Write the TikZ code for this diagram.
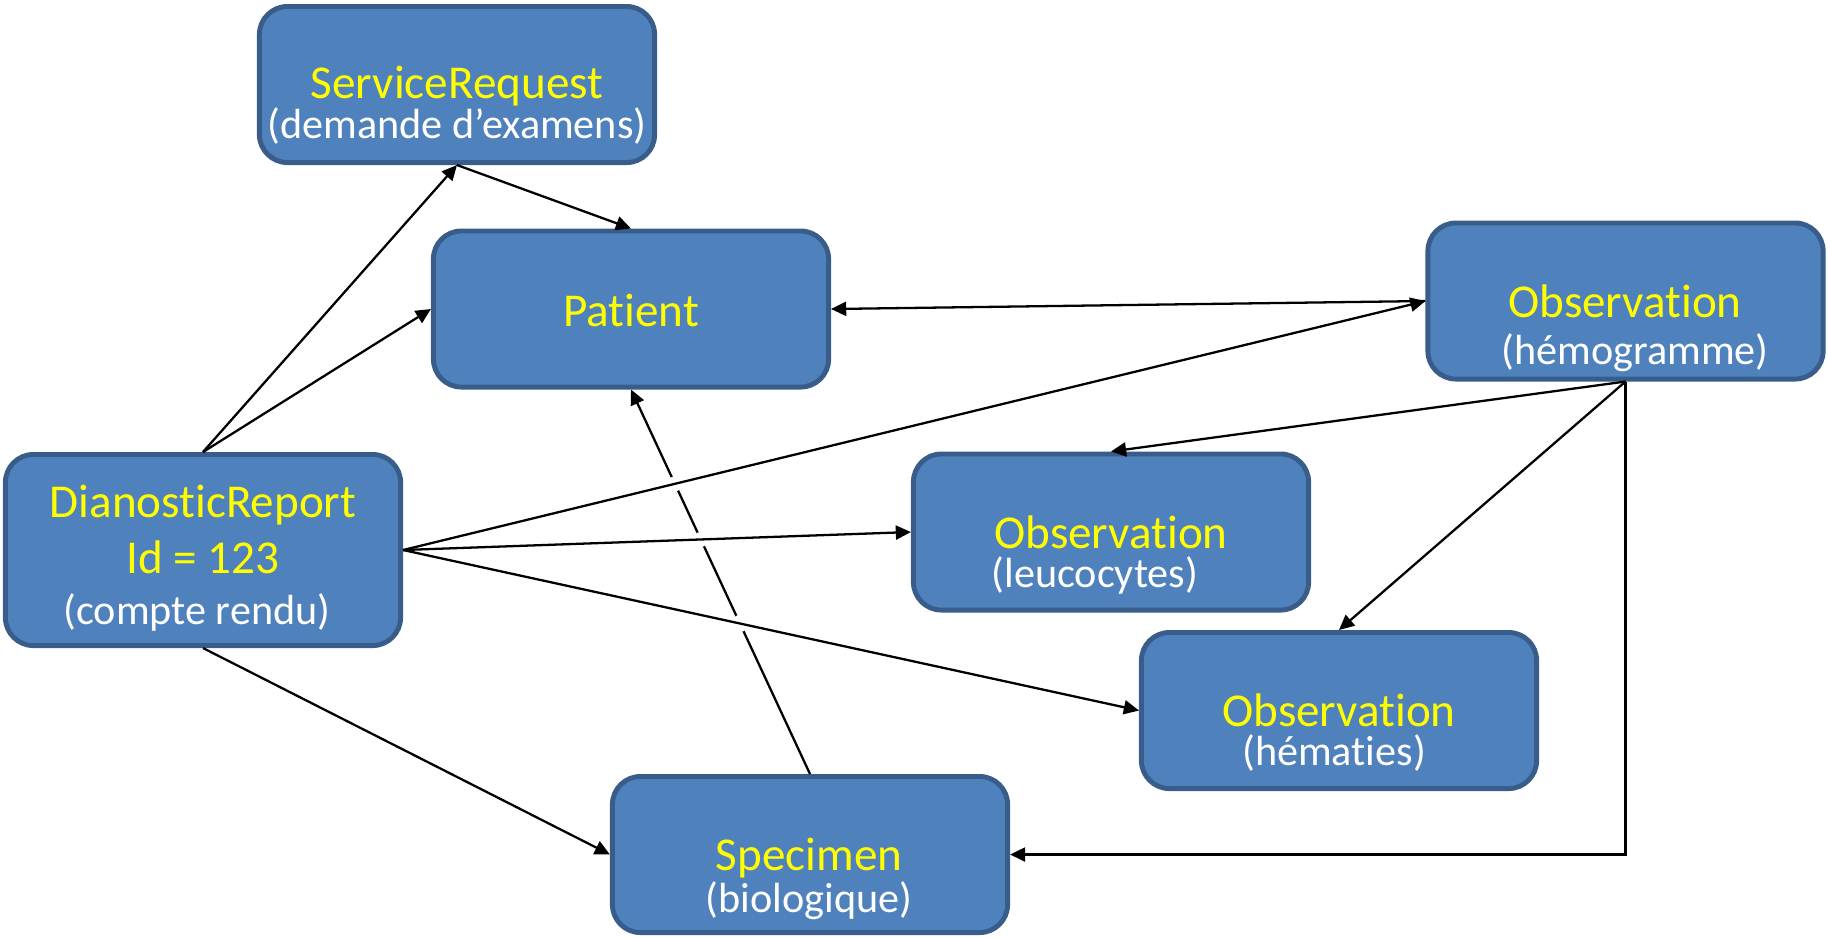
\documentclass[tikz,border=0pt]{standalone}
\usepackage{fontspec}
\setmainfont{Carlito}[Ligatures=NoCommon]
\usetikzlibrary{arrows.meta,intersections,calc}
\definecolor{boxfill}{HTML}{4F81BD}
\definecolor{boxline}{HTML}{385D8A}
\definecolor{ttlyellow}{HTML}{FFFF00}

\begin{document}
\begin{tikzpicture}[x=0.01cm,y=-0.01cm,
  box/.style={draw=boxline, fill=boxfill, line width=1.4pt, rounded corners=0.28cm,
              minimum width=3.95cm, minimum height=1.56cm, inner sep=0pt},
  tallbox/.style={box, minimum height=1.91cm},
  ttl/.style={text=ttlyellow, font=\fontsize{13.4}{15}\selectfont, anchor=base, inner sep=0pt},
  sub/.style={text=white, font=\fontsize{12}{14}\selectfont, anchor=base, inner sep=0pt},
  link/.style={draw=black, line width=0.65pt, -{Triangle[length=4.3pt,width=4pt]}},
  gap/.style={fill=white},
]
\useasboundingbox (0,0) rectangle (1828,938);

% resources
\node[box] (sr) at (457,84.5) {};
\node[box] (pat) at (631,309) {};
\node[box] (hemo) at (1625.5,301) {};
\node[tallbox] (dr) at (203,550) {};
\node[box] (leuco) at (1111,532) {};
\node[box] (hemat) at (1339,710.5) {};
\node[box] (spec) at (810,854.5) {};

% captions
\node[ttl] (sr-t) at (457,98) {ServiceRequest};
\node[sub] (sr-s) at (457,138) {(demande d’examens)};
\node[ttl] (pat-t) at (631,326) {Patient};
\node[ttl] (hemo-t) at (1625,317) {Observation};
\node[sub] (hemo-s) at (1635,364) {(hémogramme)};
\node[ttl] (dr-t) at (203,517) {DianosticReport};
\node[ttl] (dr-id) at (203,573) {Id = 123};
\node[sub] (dr-s) at (197,624) {(compte rendu)};
\node[ttl] (leuco-t) at (1111,548) {Observation};
\node[sub] (leuco-s) at (1095,587) {(leucocytes)};
\node[ttl] (hemat-t) at (1339,726) {Observation};
\node[sub] (hemat-s) at (1334,765) {(hématies)};
\node[ttl] (spec-t) at (809,870) {Specimen};
\node[sub] (spec-s) at (809,912) {(biologique)};

% references
\draw[link] (dr.north) -- (sr.south);
\draw[link] (dr.north) -- (pat.west);
\draw[link] (sr.south) -- (pat.north);
\draw[link] (hemo.west) -- (pat.east);
\draw[link] (dr.south) -- (spec.west);
\draw[link] (hemo.south) -- (leuco.north);
\draw[link] (hemo.south) -- (hemat.north);
\draw[link] (hemo.south) -- (hemo.south |- spec.east) -- (spec.east);

% specimen -> patient, broken where the report links cross it
\draw[link, name path=sp] (spec.north) -- (pat.south);
\path[name path=d1] (dr.east) -- (hemo.west);
\path[name path=d2] (dr.east) -- (leuco.west);
\path[name path=d3] (dr.east) -- (hemat.west);
\path[name intersections={of=sp and d1, by={x1}}];
\path[name intersections={of=sp and d2, by={x2}}];
\path[name intersections={of=sp and d3, by={x3}}];
\fill[gap] (x1) circle[radius=0.075cm];
\fill[gap] (x2) circle[radius=0.075cm];
\fill[gap] (x3) circle[radius=0.085cm];

\draw[link] (dr.east) -- (hemo.west);
\draw[link] (dr.east) -- (leuco.west);
\draw[link] (dr.east) -- (hemat.west);
\end{tikzpicture}
\end{document}
